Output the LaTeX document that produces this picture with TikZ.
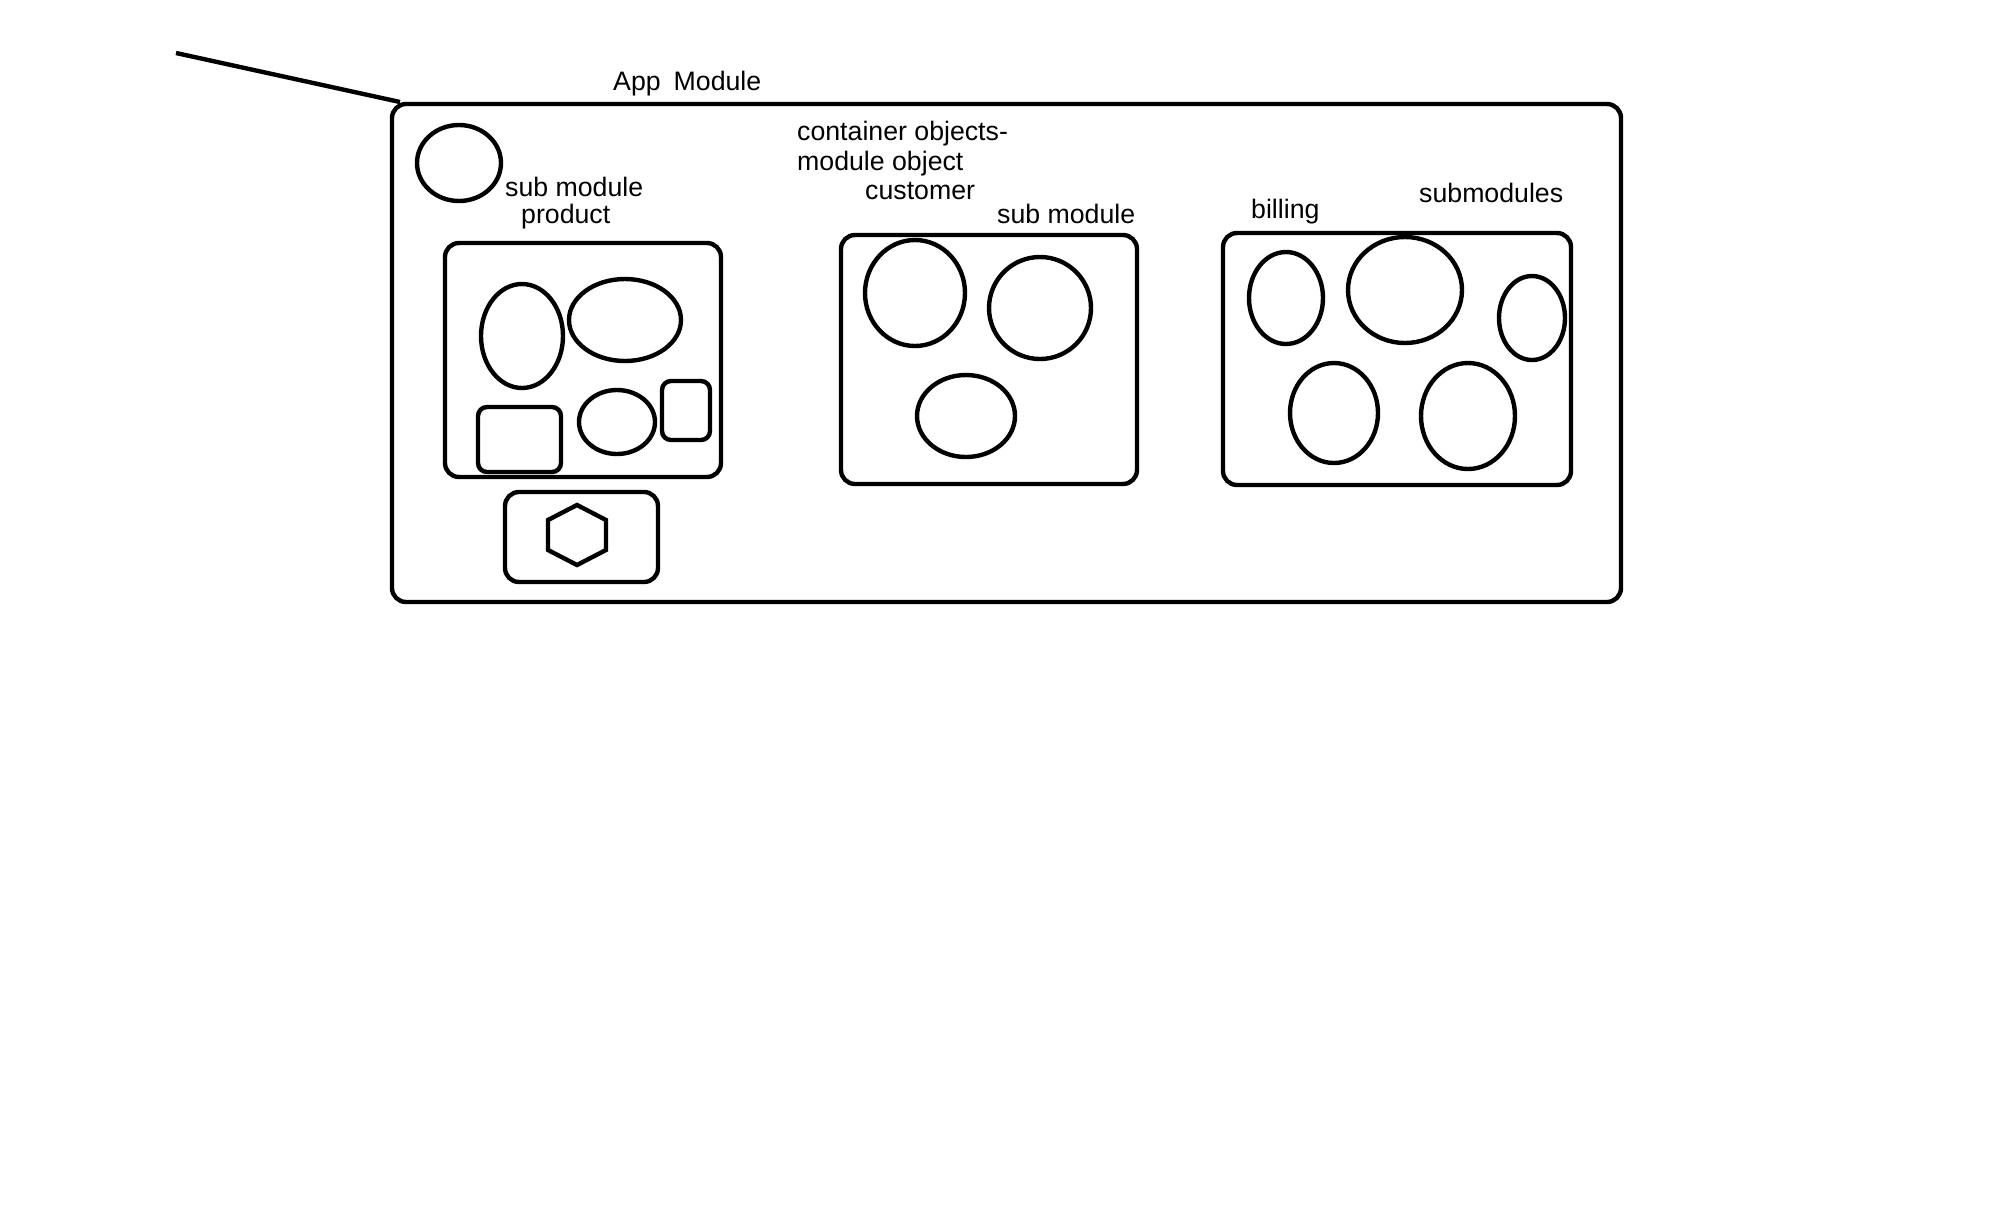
\documentclass[tikz,border=0pt]{standalone}
\usepackage{fontspec}
\setmainfont{Liberation Sans}
\usepackage{tikz}

\tikzset{
    lbl/.style={anchor=base west, inner sep=0pt, font=\fontsize{13.35}{16}\selectfont},
    modbox/.style={rounded corners=7pt},
    objbox/.style={rounded corners=4.5pt}
}

\begin{document}
\begin{tikzpicture}[x=0.5pt, y=-0.5pt, line width=2.2pt]
    \useasboundingbox (0, 0) rectangle (1992, 1227);

    % draw app module box and its pointer line
    \draw[modbox] (392, 104) rectangle (1621, 602);
    \draw (176, 53) -- (400, 102);
    \node[lbl] (appmod) at (611, 90) {App\hspace{6.5pt}Module};

    % draw module object
    \draw (459, 163) ellipse (42 and 38);
    \node[lbl] (prodtitle) at (503, 196) {sub module};
    \node[lbl] (prodname) at (519, 223) {product};

    % draw product sub module
    \draw[modbox] (445, 243) rectangle (721, 477);
    \draw (522, 336) ellipse (41 and 52);
    \draw (625, 320) ellipse (56 and 41);
    \draw (617, 422) ellipse (38 and 32);
    \draw[objbox] (478, 407) rectangle (561, 472);
    \draw[objbox] (662, 381) rectangle (710, 440);

    % draw hexagon box
    \draw[modbox] (505, 492) rectangle (658, 582);
    \draw (577, 505) -- (606, 520) -- (606, 550) -- (577, 565) -- (548, 550) -- (548, 520) -- cycle;

    % draw customer sub module
    \node[lbl] (contobj) at (795, 140) {container objects-};
    \node[lbl] (modobj) at (795, 170) {module object};
    \node[lbl] (custname) at (863, 199) {customer};
    \node[lbl] (custtitle) at (995, 223) {sub module};
    \draw[modbox] (841, 235) rectangle (1137, 484);
    \draw (915, 293) ellipse (50 and 53);
    \draw (1040, 308) ellipse (51 and 51);
    \draw (966, 416) ellipse (49 and 41);

    % draw billing sub module
    \node[lbl] (billname) at (1249, 218) {billing};
    \node[lbl] (subtitle) at (1417, 202) {submodules};
    \draw[modbox] (1223, 233) rectangle (1571, 485);
    \draw (1286, 298) ellipse (37 and 46);
    \draw (1405, 290) ellipse (57 and 53);
    \draw (1532, 318) ellipse (33 and 42);
    \draw (1334, 413) ellipse (44 and 50);
    \draw (1468, 416) ellipse (47 and 53);

\end{tikzpicture}
\end{document}
